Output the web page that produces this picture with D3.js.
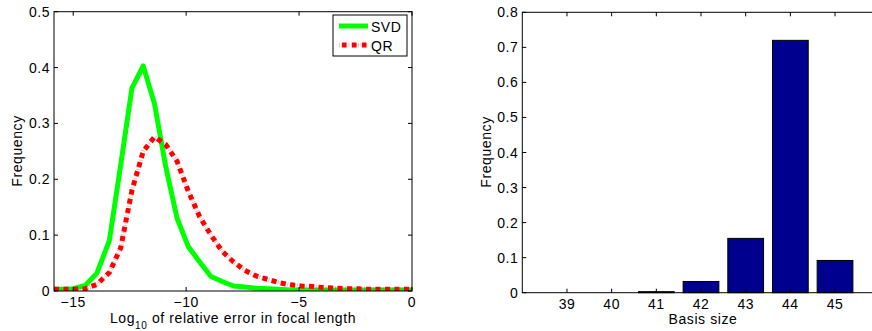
<!DOCTYPE html>
<html>
<head>
<meta charset="utf-8">
<script src="https://cdn.jsdelivr.net/npm/d3@7"></script>
<style>
  html, body { margin: 0; padding: 0; background: #fff; }
  svg { display: block; font-family: "Liberation Sans", Arial, sans-serif; letter-spacing: 0.5px; }
</style>
</head>
<body>
<div id="chart"></div>
<script>
// Left panel: histogram curves of log10 relative error
const errBins = [-15.85, -15.5, -15, -14.47, -13.95, -13.4, -12.9, -12.4, -11.9, -11.4, -10.9, -10.4, -9.9, -9.4,
  -8.9, -8.4, -7.9, -7.4, -6.9, -6.4, -5.9, -5.4, -4.9, -4.4, -3.9, -3.4, -2.9, -2.4, -1.9, -1.4, -0.9, -0.4, 0];
const svdFreq = [0.003, 0.003, 0.004, 0.01, 0.032, 0.09, 0.225, 0.363, 0.403, 0.335, 0.222, 0.13, 0.079, 0.052,
  0.026, 0.017, 0.009, 0.007, 0.005, 0.004, 0.003, 0.002, 0.002, 0.002, 0.002, 0.002, 0.002, 0.002, 0.002, 0.002, 0.002, 0.002, 0.002];
const qrFreq = [0.003, 0.003, 0.003, 0.004, 0.012, 0.033, 0.077, 0.18, 0.25, 0.276, 0.262, 0.232, 0.178, 0.133,
  0.1, 0.071, 0.052, 0.037, 0.027, 0.021, 0.015, 0.011, 0.009, 0.008, 0.006, 0.005, 0.004, 0.004, 0.003, 0.003, 0.003, 0.003, 0.003];
const errTicks = [-15, -10, -5, 0];
const freqTicksLeft = [0, 0.1, 0.2, 0.3, 0.4, 0.5];

// Right panel: basis size histogram
const basisSizes = [39, 40, 41, 42, 43, 44, 45];
const basisFreq = [0, 0, 0.003, 0.032, 0.155, 0.72, 0.092];
const freqTicksRight = [0, 0.1, 0.2, 0.3, 0.4, 0.5, 0.6, 0.7, 0.8];

const width = 872, height = 331;
const svg = d3.select('#chart').append('svg')
  .attr('width', width)
  .attr('height', height);

const minus = s => String(s).replace('-', '\u2212');
const axisColor = '#000';
const fontSize = 14;

// draws the MATLAB-style box with inward ticks on all four sides
function drawBox(g, x, y, xTicks, yTicks, xFmt, yFmt) {
  const [x0, x1] = x.range();
  const [y0, y1] = y.range(); // y0 bottom, y1 top
  const tl = 4;
  g.append('rect')
    .attr('x', x0).attr('y', y1)
    .attr('width', x1 - x0).attr('height', y0 - y1)
    .attr('fill', 'none').attr('stroke', axisColor).attr('stroke-width', 1);

  xTicks.forEach(t => {
    const px = x(t);
    g.append('line').attr('x1', px).attr('x2', px).attr('y1', y0).attr('y2', y0 - tl).attr('stroke', axisColor);
    g.append('line').attr('x1', px).attr('x2', px).attr('y1', y1).attr('y2', y1 + tl).attr('stroke', axisColor);
    g.append('text')
      .attr('x', px).attr('y', y0 + 16)
      .attr('text-anchor', 'middle')
      .attr('font-size', fontSize)
      .text(xFmt(t));
  });
  yTicks.forEach(t => {
    const py = y(t);
    g.append('line').attr('x1', x0).attr('x2', x0 + tl).attr('y1', py).attr('y2', py).attr('stroke', axisColor);
    g.append('line').attr('x1', x1).attr('x2', x1 - tl).attr('y1', py).attr('y2', py).attr('stroke', axisColor);
    g.append('text')
      .attr('x', x0 - 4).attr('y', py + 5)
      .attr('text-anchor', 'end')
      .attr('font-size', fontSize)
      .text(yFmt(t));
  });
}

// ---------- Left panel ----------
const xL = d3.scaleLinear().domain([-15.85, 0]).range([54, 412]);
const yL = d3.scaleLinear().domain([0, 0.5]).range([291, 11.7]);
const gL = svg.append('g');

svg.append('clipPath').attr('id', 'clipL')
  .append('rect').attr('x', 54).attr('y', 11.7).attr('width', 358).attr('height', 279.3);

const lineL = d3.line().x((d, i) => xL(errBins[i])).y(d => yL(d));
const curves = gL.append('g').attr('clip-path', 'url(#clipL)');

curves.append('path')
  .datum(svdFreq)
  .attr('fill', 'none')
  .attr('stroke', '#00ff00')
  .attr('stroke-width', 5)
  .attr('stroke-linejoin', 'round')
  .attr('d', lineL);

// faint underlay that MATLAB's thick dotted line leaves between the dots
curves.append('path')
  .datum(qrFreq)
  .attr('fill', 'none')
  .attr('stroke', '#ff0000')
  .attr('stroke-opacity', 0.3)
  .attr('stroke-width', 4.5)
  .attr('stroke-dasharray', '0.8,1.6')
  .attr('d', lineL);

curves.append('path')
  .datum(qrFreq)
  .attr('fill', 'none')
  .attr('stroke', '#ff0000')
  .attr('stroke-width', 5)
  .attr('stroke-dasharray', '5,4.5')
  .attr('d', lineL);

drawBox(gL, xL, yL, errTicks, freqTicksLeft, minus, d3.format('~g'));

const xLab = gL.append('text')
  .attr('x', 233).attr('y', 323)
  .attr('text-anchor', 'middle')
  .attr('font-size', fontSize)
  .style('letter-spacing', '0.6px');
xLab.append('tspan').text('Log');
xLab.append('tspan').attr('font-size', 10).attr('dy', 5.5).text('10');
xLab.append('tspan').attr('dy', -5.5).text(' of relative error in focal length');

gL.append('text')
  .attr('transform', 'translate(22,151) rotate(-90)')
  .attr('text-anchor', 'middle')
  .attr('font-size', fontSize)
  .style('letter-spacing', '0.6px')
  .text('Frequency');

// legend
const leg = gL.append('g');
leg.append('rect')
  .attr('x', 333).attr('y', 15).attr('width', 74).attr('height', 41)
  .attr('fill', '#fff').attr('stroke', '#000');
leg.append('line')
  .attr('x1', 339).attr('x2', 368).attr('y1', 26).attr('y2', 26)
  .attr('stroke', '#00ff00').attr('stroke-width', 5);
leg.append('line')
  .attr('x1', 339).attr('x2', 368).attr('y1', 45).attr('y2', 45)
  .attr('stroke', '#ff0000').attr('stroke-opacity', 0.3).attr('stroke-width', 4.5).attr('stroke-dasharray', '0.8,1.6');
leg.append('line')
  .attr('x1', 342).attr('x2', 368).attr('y1', 45).attr('y2', 45)
  .attr('stroke', '#ff0000').attr('stroke-width', 5).attr('stroke-dasharray', '4.5,5.5');
leg.append('text').attr('x', 371).attr('y', 31.5).attr('font-size', fontSize).text('SVD');
leg.append('text').attr('x', 371).attr('y', 50.5).attr('font-size', fontSize).text('QR');

// ---------- Right panel ----------
const xR = d3.scaleLinear().domain([38, 46]).range([522.3, 879.7]);
const yR = d3.scaleLinear().domain([0, 0.8]).range([292.7, 12.3]);
const gR = svg.append('g');

gR.selectAll('rect.bar')
  .data(basisSizes)
  .join('rect')
  .attr('class', 'bar')
  .attr('x', d => xR(d - 0.4))
  .attr('width', xR(0.8) - xR(0))
  .attr('y', (d, i) => yR(basisFreq[i]))
  .attr('height', (d, i) => yR(0) - yR(basisFreq[i]))
  .attr('fill', '#00008f')
  .attr('stroke', '#000')
  .attr('stroke-width', 1);

drawBox(gR, xR, yR, basisSizes, freqTicksRight, d => d, d3.format('~g'));

gR.append('text')
  .attr('x', 703).attr('y', 324)
  .attr('text-anchor', 'middle')
  .attr('font-size', fontSize)
  .style('letter-spacing', '0.6px')
  .text('Basis size');

gR.append('text')
  .attr('transform', 'translate(491,152) rotate(-90)')
  .attr('text-anchor', 'middle')
  .attr('font-size', fontSize)
  .style('letter-spacing', '0.6px')
  .text('Frequency');
</script>
</body>
</html>
